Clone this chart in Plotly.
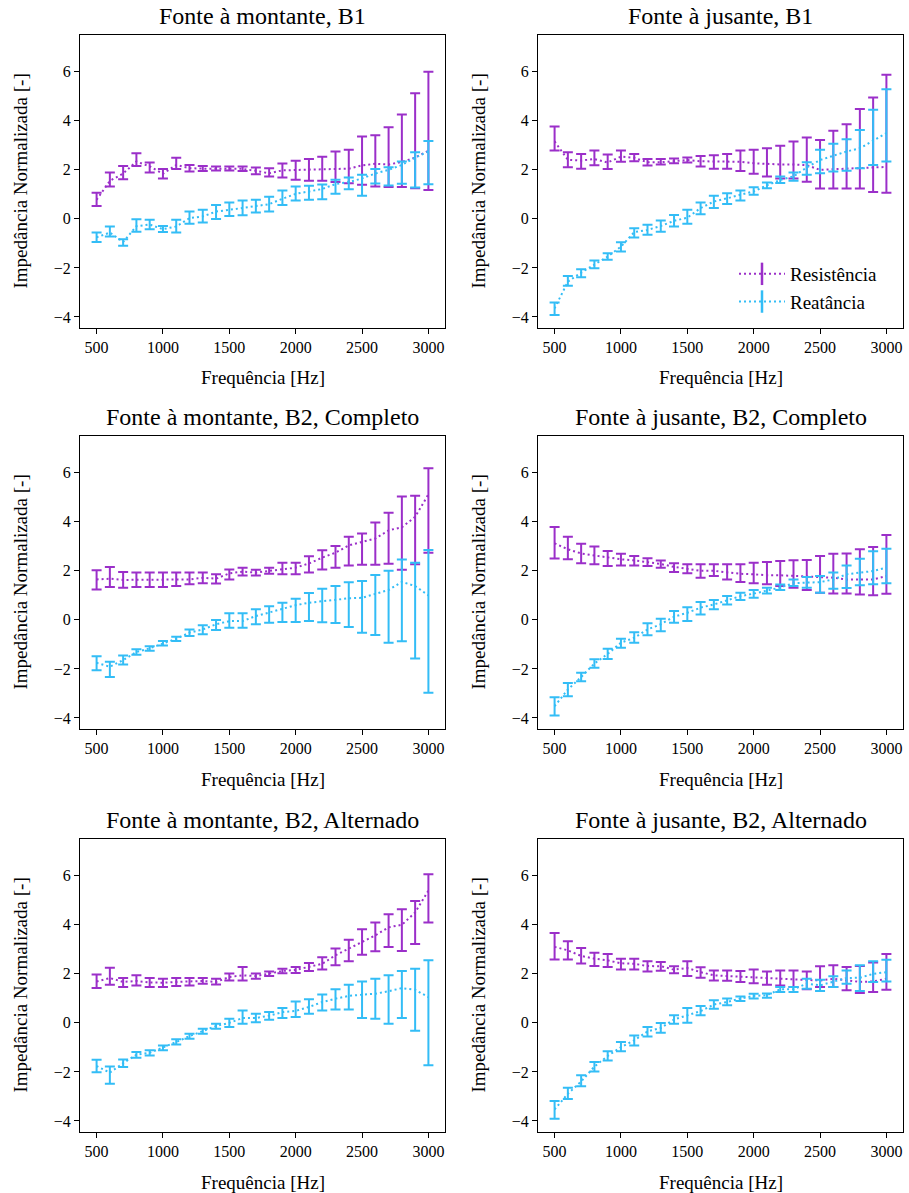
import plotly.graph_objects as go

freq = list(range(500, 3001, 100))

titles = ["Fonte à montante, B1", "Fonte à jusante, B1",
          "Fonte à montante, B2, Completo", "Fonte à jusante, B2, Completo",
          "Fonte à montante, B2, Alternado", "Fonte à jusante, B2, Alternado"]
series_names = ["Resistência", "Reatância"]
x_label = "Frequência [Hz]"
y_label = "Impedância Normalizada [-]"
x_ticks = [500, 1000, 1500, 2000, 2500, 3000]
y_ticks = [-4, -2, 0, 2, 4, 6]

# Panel 1: montante, B1
R1_mean = [0.78, 1.55, 1.85, 2.34, 2.14, 1.84, 2.2, 2.07, 2.05, 2.05, 2.05, 2.04, 1.96, 1.86, 1.98, 2.0, 2.02, 2.04, 2.04, 2.05, 2.18, 2.25, 2.22, 2.32, 2.5, 2.78]
R1_hi = [1.07, 1.89, 2.16, 2.68, 2.3, 2.03, 2.49, 2.2, 2.16, 2.14, 2.14, 2.14, 2.1, 2.07, 2.26, 2.37, 2.44, 2.53, 2.75, 2.82, 3.36, 3.41, 3.74, 4.26, 5.12, 6.0]
R1_lo = [0.53, 1.32, 1.62, 2.16, 1.89, 1.65, 2.03, 1.93, 1.95, 1.97, 1.97, 1.95, 1.82, 1.73, 1.69, 1.6, 1.56, 1.56, 1.5, 1.45, 1.39, 1.32, 1.3, 1.3, 1.25, 1.18]
X1_mean = [-0.75, -0.56, -0.94, -0.3, -0.23, -0.42, -0.31, 0.03, 0.1, 0.3, 0.37, 0.44, 0.53, 0.6, 0.82, 1.02, 1.12, 1.22, 1.42, 1.5, 1.65, 1.85, 2.0, 2.2, 2.5, 2.75]
X1_hi = [-0.56, -0.31, -0.83, -0.01, -0.04, -0.29, -0.04, 0.3, 0.37, 0.57, 0.67, 0.75, 0.78, 0.9, 1.16, 1.32, 1.35, 1.4, 1.6, 1.69, 1.8, 2.03, 2.11, 2.34, 2.72, 3.18]
X1_lo = [-0.94, -0.72, -1.1, -0.52, -0.42, -0.53, -0.56, -0.2, -0.15, 0.0, 0.12, 0.15, 0.26, 0.3, 0.57, 0.75, 0.78, 0.8, 1.03, 1.21, 0.94, 1.44, 1.36, 1.43, 1.28, 1.41]

# Panel 2: jusante, B1
R2_mean = [3.16, 2.41, 2.38, 2.44, 2.3, 2.54, 2.49, 2.31, 2.31, 2.37, 2.4, 2.35, 2.34, 2.33, 2.33, 2.27, 2.24, 2.22, 2.22, 2.19, 2.0, 2.02, 2.05, 2.08, 2.1, 2.12]
R2_hi = [3.77, 2.72, 2.65, 2.79, 2.63, 2.79, 2.65, 2.44, 2.44, 2.46, 2.5, 2.57, 2.6, 2.65, 2.79, 2.82, 2.88, 2.98, 3.16, 3.32, 3.22, 3.59, 3.86, 4.48, 4.95, 5.88]
R2_lo = [2.79, 2.11, 2.05, 2.19, 2.03, 2.33, 2.35, 2.18, 2.22, 2.27, 2.3, 2.14, 2.05, 2.05, 1.95, 1.84, 1.73, 1.65, 1.65, 1.51, 1.24, 1.24, 1.24, 1.24, 1.1, 1.07]
X2_mean = [-3.65, -2.56, -2.19, -1.85, -1.54, -1.13, -0.54, -0.45, -0.29, -0.08, 0.05, 0.44, 0.71, 0.84, 0.98, 1.12, 1.37, 1.59, 1.73, 2.1, 2.4, 2.58, 2.75, 2.88, 3.18, 3.5]
X2_hi = [-3.41, -2.33, -2.05, -1.7, -1.4, -0.95, -0.38, -0.24, -0.07, 0.16, 0.37, 0.67, 0.94, 1.05, 1.16, 1.29, 1.48, 1.73, 1.89, 2.31, 2.82, 3.06, 3.25, 3.63, 4.45, 5.29]
X2_lo = [-3.92, -2.73, -2.38, -2.01, -1.67, -1.33, -0.76, -0.65, -0.52, -0.31, -0.2, 0.19, 0.44, 0.61, 0.75, 0.98, 1.25, 1.46, 1.56, 1.8, 1.86, 1.93, 1.96, 2.07, 2.2, 2.34]

# Panel 3: montante, B2, Completo
R3_mean = [1.65, 1.68, 1.63, 1.63, 1.63, 1.63, 1.65, 1.65, 1.72, 1.68, 1.9, 1.97, 1.93, 2.0, 2.09, 2.13, 2.3, 2.54, 2.74, 3.04, 3.18, 3.32, 3.65, 3.78, 4.2, 5.12]
R3_hi = [2.02, 2.16, 1.95, 1.93, 1.93, 1.93, 1.93, 1.93, 1.93, 1.86, 2.06, 2.13, 2.04, 2.13, 2.33, 2.33, 2.6, 2.84, 3.01, 3.39, 3.52, 3.97, 4.37, 5.03, 5.06, 6.18]
R3_lo = [1.24, 1.34, 1.31, 1.34, 1.34, 1.34, 1.38, 1.45, 1.49, 1.48, 1.65, 1.81, 1.81, 1.88, 1.86, 1.86, 1.93, 2.06, 2.13, 2.22, 2.25, 2.25, 2.29, 2.04, 2.27, 2.74]
X3_mean = [-1.75, -1.91, -1.64, -1.31, -1.16, -0.95, -0.77, -0.52, -0.39, -0.18, -0.05, -0.05, 0.16, 0.3, 0.45, 0.6, 0.7, 0.77, 0.81, 0.88, 0.9, 1.05, 1.22, 1.55, 1.38, 1.0]
X3_hi = [-1.48, -1.71, -1.45, -1.2, -1.07, -0.86, -0.69, -0.39, -0.22, 0.0, 0.27, 0.27, 0.43, 0.56, 0.7, 0.86, 1.1, 1.27, 1.38, 1.54, 1.59, 1.83, 2.0, 2.46, 2.33, 2.85]
X3_lo = [-2.05, -2.33, -1.82, -1.42, -1.26, -1.04, -0.86, -0.66, -0.59, -0.41, -0.32, -0.32, -0.18, -0.12, -0.09, -0.09, -0.05, -0.1, -0.13, -0.29, -0.52, -0.62, -0.93, -0.87, -1.57, -2.97]

# Panel 4: jusante, B2, Completo
R4_mean = [3.12, 2.88, 2.71, 2.63, 2.54, 2.47, 2.43, 2.37, 2.28, 2.16, 2.09, 2.0, 2.0, 1.93, 1.88, 1.86, 1.82, 1.82, 1.79, 1.75, 1.72, 1.72, 1.65, 1.65, 1.65, 1.79]
R4_hi = [3.79, 3.39, 3.11, 2.99, 2.81, 2.7, 2.61, 2.51, 2.42, 2.31, 2.27, 2.27, 2.27, 2.27, 2.27, 2.33, 2.36, 2.4, 2.43, 2.44, 2.61, 2.7, 2.71, 2.88, 2.97, 3.46]
R4_lo = [2.5, 2.47, 2.31, 2.27, 2.2, 2.22, 2.22, 2.2, 2.13, 1.95, 1.9, 1.72, 1.79, 1.65, 1.55, 1.49, 1.45, 1.38, 1.31, 1.22, 1.11, 1.08, 1.08, 1.04, 1.01, 1.07]
X4_mean = [-3.52, -2.84, -2.33, -1.78, -1.39, -0.93, -0.73, -0.39, -0.18, 0.13, 0.29, 0.5, 0.63, 0.81, 0.97, 1.07, 1.2, 1.32, 1.5, 1.52, 1.54, 1.65, 1.86, 1.93, 1.99, 2.13]
X4_hi = [-3.15, -2.57, -2.16, -1.61, -1.18, -0.77, -0.5, -0.14, 0.05, 0.36, 0.52, 0.73, 0.81, 0.97, 1.11, 1.22, 1.31, 1.44, 1.65, 1.75, 1.79, 1.93, 2.22, 2.49, 2.8, 2.9]
X4_lo = [-3.9, -3.11, -2.5, -1.95, -1.59, -1.14, -0.93, -0.63, -0.46, -0.12, -0.05, 0.22, 0.43, 0.63, 0.81, 0.9, 1.08, 1.22, 1.38, 1.31, 1.11, 1.27, 1.3, 1.41, 1.45, 1.49]

# Panel 5: montante, B2, Alternado
R5_mean = [1.69, 1.83, 1.67, 1.71, 1.65, 1.64, 1.67, 1.69, 1.71, 1.67, 1.87, 1.94, 1.91, 2.01, 2.12, 2.16, 2.28, 2.41, 2.76, 3.03, 3.3, 3.57, 3.9, 4.0, 4.5, 5.4]
R5_hi = [1.97, 2.25, 1.83, 1.94, 1.83, 1.8, 1.83, 1.83, 1.83, 1.8, 2.01, 2.28, 2.01, 2.1, 2.21, 2.28, 2.44, 2.68, 3.03, 3.39, 3.82, 4.09, 4.43, 4.63, 4.97, 6.06]
R5_lo = [1.42, 1.56, 1.46, 1.53, 1.46, 1.46, 1.5, 1.53, 1.6, 1.57, 1.73, 1.73, 1.8, 1.91, 2.02, 2.03, 2.12, 2.18, 2.35, 2.51, 2.78, 2.92, 3.1, 2.93, 3.22, 4.09]
X5_mean = [-1.76, -2.03, -1.64, -1.3, -1.22, -1.01, -0.78, -0.54, -0.33, -0.13, 0.0, 0.2, 0.2, 0.29, 0.44, 0.49, 0.65, 0.85, 0.99, 1.1, 1.15, 1.19, 1.29, 1.42, 1.35, 1.05]
X5_hi = [-1.5, -1.78, -1.49, -1.19, -1.12, -0.92, -0.67, -0.44, -0.24, -0.03, 0.17, 0.51, 0.37, 0.44, 0.61, 0.87, 0.96, 1.16, 1.37, 1.56, 1.69, 1.8, 1.94, 2.12, 2.21, 2.55]
X5_lo = [-2.01, -2.48, -1.8, -1.42, -1.33, -1.12, -0.88, -0.65, -0.44, -0.24, -0.17, -0.03, 0.03, 0.13, 0.2, 0.24, 0.37, 0.51, 0.55, 0.55, 0.2, 0.17, -0.03, 0.2, -0.32, -1.73]

# Panel 6: jusante, B2, Alternado
R6_mean = [3.1, 2.96, 2.73, 2.62, 2.55, 2.43, 2.41, 2.32, 2.31, 2.17, 2.24, 2.07, 1.94, 1.92, 1.88, 1.87, 1.83, 1.8, 1.78, 1.73, 1.73, 1.8, 1.73, 1.67, 1.69, 1.8]
R6_hi = [3.67, 3.33, 3.05, 2.86, 2.81, 2.62, 2.62, 2.51, 2.48, 2.31, 2.51, 2.27, 2.14, 2.14, 2.12, 2.18, 2.1, 2.14, 2.14, 2.1, 2.31, 2.35, 2.28, 2.32, 2.46, 2.81]
R6_lo = [2.59, 2.59, 2.42, 2.32, 2.28, 2.18, 2.18, 2.1, 2.13, 2.02, 1.91, 1.84, 1.73, 1.72, 1.67, 1.62, 1.56, 1.53, 1.46, 1.37, 1.46, 1.46, 1.33, 1.22, 1.26, 1.35]
X6_mean = [-3.53, -2.89, -2.39, -1.78, -1.35, -0.99, -0.71, -0.35, -0.21, 0.14, 0.31, 0.48, 0.75, 0.85, 0.99, 1.1, 1.13, 1.37, 1.37, 1.6, 1.53, 1.69, 1.83, 1.84, 2.0, 2.07]
X6_hi = [-3.19, -2.65, -2.14, -1.6, -1.16, -0.78, -0.51, -0.17, 0.0, 0.31, 0.61, 0.69, 0.92, 0.99, 1.08, 1.19, 1.2, 1.46, 1.46, 1.8, 1.76, 1.9, 2.14, 2.35, 2.51, 2.58]
X6_lo = [-3.91, -3.1, -2.58, -1.98, -1.53, -1.16, -0.92, -0.55, -0.4, -0.03, 0.01, 0.31, 0.58, 0.72, 0.89, 0.99, 1.03, 1.26, 1.26, 1.39, 1.3, 1.46, 1.6, 1.3, 1.67, 1.69]

panels = [
    (R1_mean, R1_hi, R1_lo, X1_mean, X1_hi, X1_lo),
    (R2_mean, R2_hi, R2_lo, X2_mean, X2_hi, X2_lo),
    (R3_mean, R3_hi, R3_lo, X3_mean, X3_hi, X3_lo),
    (R4_mean, R4_hi, R4_lo, X4_mean, X4_hi, X4_lo),
    (R5_mean, R5_hi, R5_lo, X5_mean, X5_hi, X5_lo),
    (R6_mean, R6_hi, R6_lo, X6_mean, X6_hi, X6_lo),
]

PURPLE = "#9B2FC9"
BLUE = "#33BDF6"
FONT = "Liberation Serif"
W, H = 909, 1193

xdom = [(80 / W, 445 / W), (538 / W, 903 / W)]
ydom = [(1 - 328 / H, 1 - 35 / H), (1 - 729 / H, 1 - 436 / H), (1 - 1132 / H, 1 - 839 / H)]

fig = go.Figure()
annotations = []
DASH = "2px,3px"

for k, (rm, rh, rl, xm, xh, xl) in enumerate(panels):
    r, c = divmod(k, 2)
    n = k + 1
    xa = "x" if n == 1 else f"x{n}"
    ya = "y" if n == 1 else f"y{n}"
    for mean, hi, lo, color in ((rm, rh, rl, PURPLE), (xm, xh, xl, BLUE)):
        fig.add_trace(go.Scatter(
            x=freq, y=mean, mode="lines",
            line=dict(color=color, width=2, dash=DASH),
            error_y=dict(type="data", symmetric=False,
                         array=[max(0, h - m) for h, m in zip(hi, mean)],
                         arrayminus=[max(0, m - l) for m, l in zip(mean, lo)],
                         color=color, thickness=2, width=5),
            xaxis=xa, yaxis=ya, showlegend=False, hoverinfo="skip"))
    axis_common = dict(showline=True, linecolor="black", linewidth=1, mirror=True,
                       ticks="outside", ticklen=5, tickwidth=1, tickcolor="black",
                       showgrid=False, zeroline=False,
                       tickfont=dict(family=FONT, size=16, color="black"))
    fig.update_layout(**{
        ("xaxis" if n == 1 else f"xaxis{n}"): dict(
            domain=list(xdom[c]), anchor=ya, range=[375, 3125],
            tickvals=x_ticks, ticktext=[str(v) for v in x_ticks], **axis_common),
        ("yaxis" if n == 1 else f"yaxis{n}"): dict(
            domain=list(ydom[r]), anchor=xa, range=[-4.45, 7.5],
            tickvals=y_ticks, ticktext=[("\u2212" + str(-v)) if v < 0 else str(v) for v in y_ticks],
            **axis_common),
    })
    xc = (xdom[c][0] + xdom[c][1]) / 2
    annotations.append(dict(text=titles[k], x=xc, y=ydom[r][1], xref="paper", yref="paper",
                            xanchor="center", yanchor="bottom", yshift=4, showarrow=False,
                            font=dict(family=FONT, size=24, color="black")))
    annotations.append(dict(text=x_label, x=xc, y=ydom[r][0], xref="paper", yref="paper",
                            xanchor="center", yanchor="middle", yshift=-50, showarrow=False,
                            font=dict(family=FONT, size=19, color="black")))
    annotations.append(dict(text=y_label, x=xdom[c][0], y=(ydom[r][0] + ydom[r][1]) / 2,
                            xref="paper", yref="paper", xanchor="center", yanchor="middle",
                            xshift=-60, textangle=-90, showarrow=False,
                            font=dict(family=FONT, size=19, color="black")))

# legend entries (in the second panel)
for name, color in zip(series_names, (PURPLE, BLUE)):
    fig.add_trace(go.Scatter(
        x=[None], y=[None], mode="lines+markers", name=name,
        line=dict(color=color, width=2, dash=DASH),
        marker=dict(symbol="line-ns", size=16, line=dict(color=color, width=2.5), color=color),
        xaxis="x2", yaxis="y2", showlegend=True))

fig.update_layout(
    width=W, height=H,
    margin=dict(l=0, r=0, t=0, b=0),
    paper_bgcolor="white", plot_bgcolor="white",
    annotations=annotations,
    showlegend=True,
    legend=dict(x=734 / W, y=1 - 255 / H, xanchor="left", yanchor="top",
                bgcolor="rgba(255,255,255,0)", borderwidth=0,
                font=dict(family=FONT, size=19, color="black"),
                itemwidth=46, tracegroupgap=0),
)

fig.write_html("out.html")
